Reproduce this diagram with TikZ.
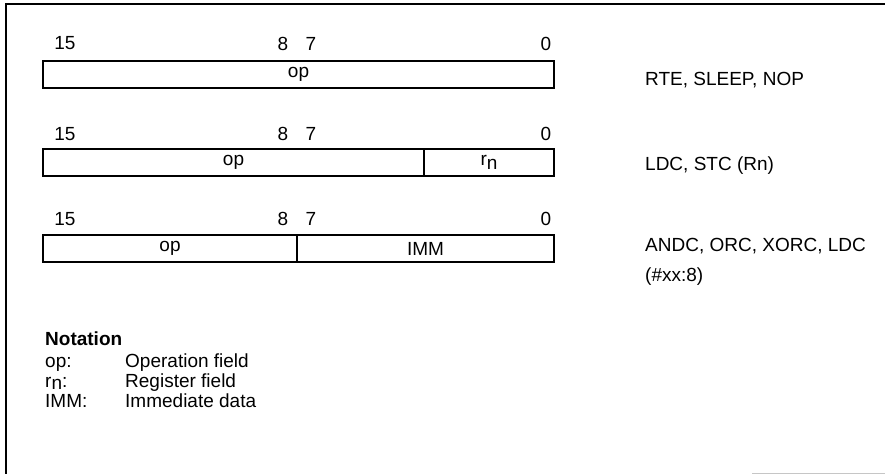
\documentclass[tikz,border=0pt]{standalone}
\usepackage{fontspec}
\setmainfont{Liberation Sans}
\usetikzlibrary{positioning}

\begin{document}
\begin{tikzpicture}[x=1pt, y=-1pt,
    every node/.style={font=\fontsize{19}{23}\selectfont, inner sep=0pt},
    field/.style={draw, line width=1.8pt, outer sep=0pt, minimum height=27pt, anchor=north west},
    insn/.style={anchor=base west},
    note/.style={anchor=base west}]
    \useasboundingbox (0,0) rectangle (885,474);

    \draw[line width=2.5pt] (885,4) -- (6,4) -- (6,474);
    \draw[gray!45, line width=1pt] (752,473) -- (885,473);

    \node[field, minimum width=511pt] (opa) at (43,61) {op};
    \node[field, minimum width=381pt] (opb) at (43,149) {op};
    \node[field, minimum width=130pt, right=0pt of opb] (rn) {r\raisebox{-0.22em}{n}};
    \node[field, minimum width=254pt] (opc) at (43,235) {op};
    \node[field, minimum width=257pt, right=0pt of opc] (imm) {IMM};

    \node (a15) at (65,43.5) {15};
    \node (a8) at (283,43.5) {8};
    \node (a7) at (311,43.5) {7};
    \node (a0) at (546,43.5) {0};

    \node (b15) at (65,134) {15};
    \node (b8) at (283,134) {8};
    \node (b7) at (311,134) {7};
    \node (b0) at (546,134) {0};

    \node (c15) at (65,219) {15};
    \node (c8) at (283,219) {8};
    \node (c7) at (311,219) {7};
    \node (c0) at (546,219) {0};

    \node[insn] (rte) at (645,85) {RTE, SLEEP, NOP};
    \node[insn] (ldc) at (645,170) {LDC, STC (Rn)};
    \node[insn] (andc) at (645,251) {ANDC, ORC, XORC, LDC};
    \node[insn] (xx8) at (645,281) {(\#xx:8)};

    \node[note, font=\fontsize{19}{23}\selectfont\bfseries] (notation) at (45,345) {Notation};
    \node[note] (kop) at (45,367) {op:};
    \node[note] (krn) at (45,387) {r\raisebox{-0.14em}{n}:};
    \node[note] (kimm) at (45,407) {IMM:};
    \node[note] (dop) at (125,367) {Operation field};
    \node[note] (drn) at (125,387) {Register field};
    \node[note] (dimm) at (125,407) {Immediate data};
\end{tikzpicture}
\end{document}
